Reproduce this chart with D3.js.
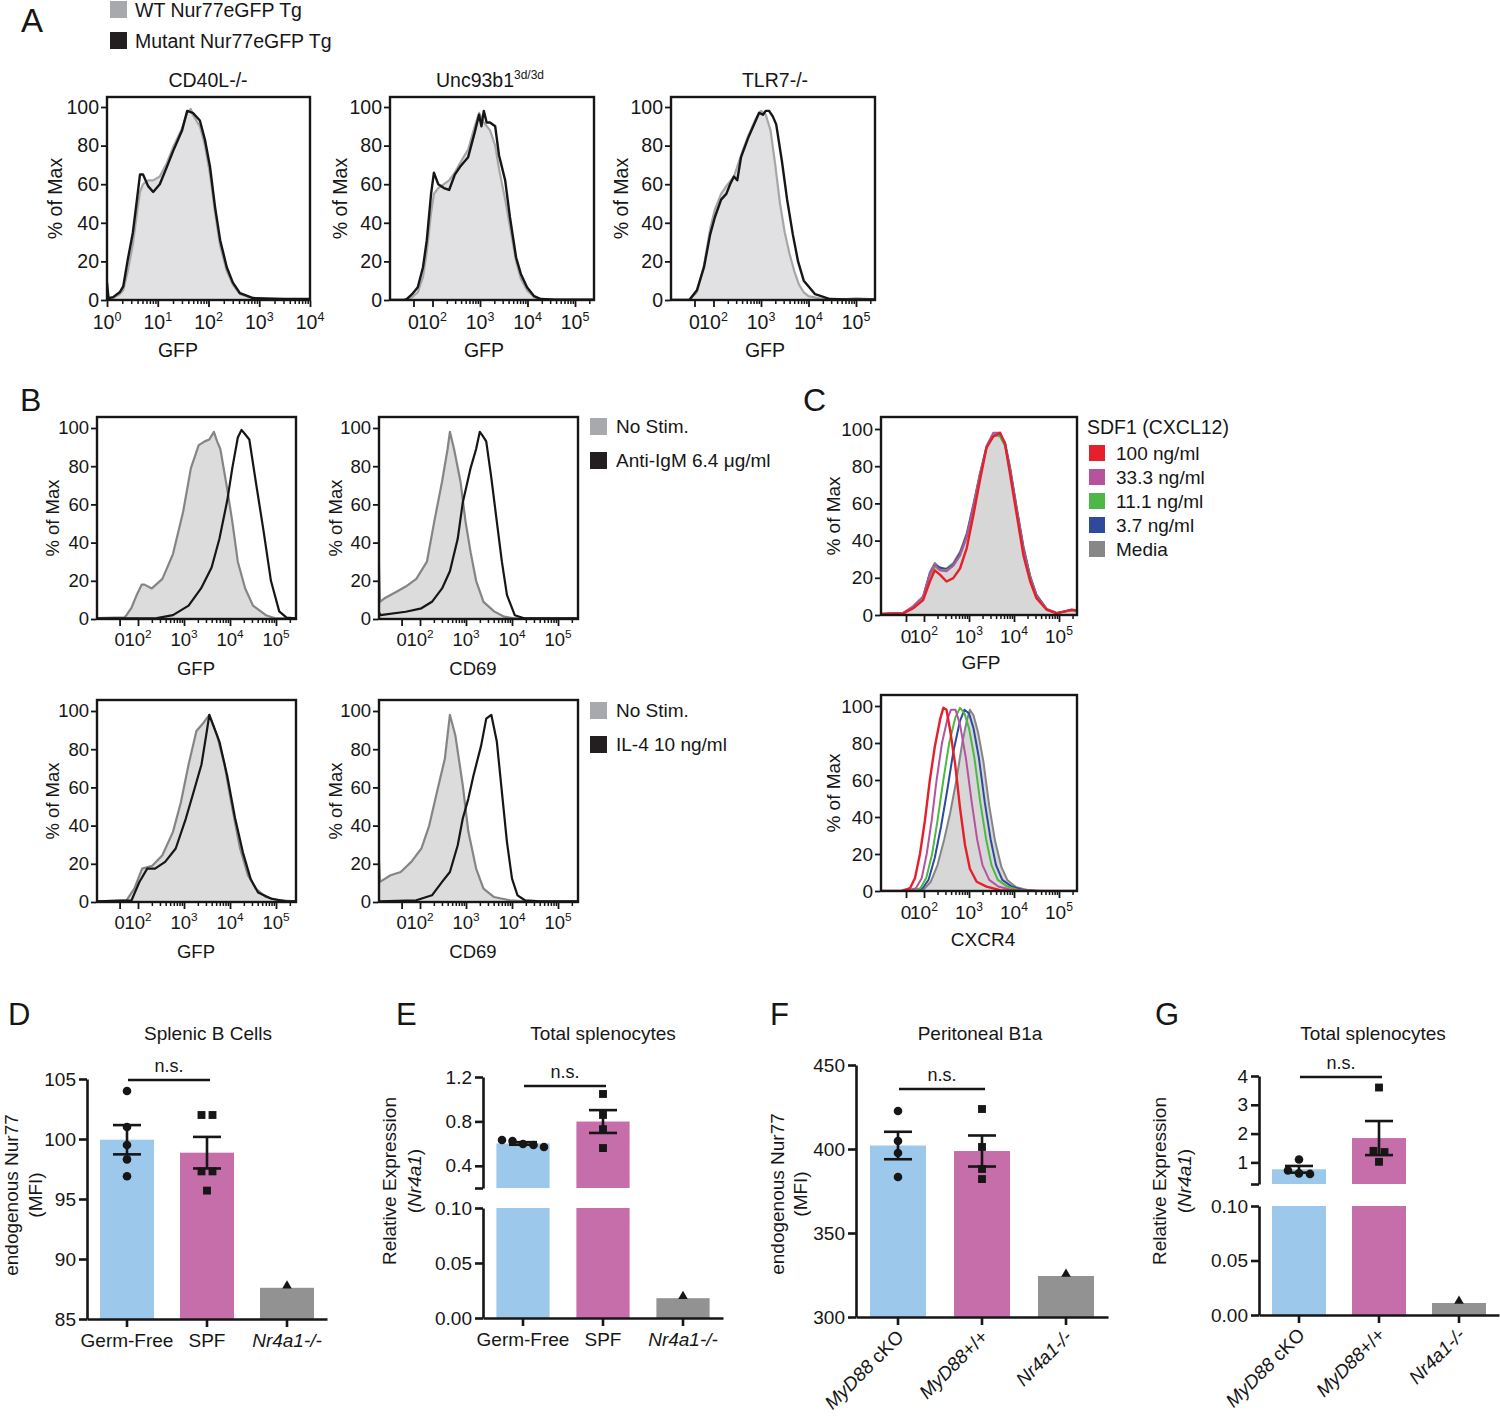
<!DOCTYPE html>
<html><head><meta charset="utf-8">
<script src="https://cdn.jsdelivr.net/npm/d3@7/dist/d3.min.js"></script>
<style>html,body{margin:0;padding:0;background:#fff;}svg{display:block;}</style>
</head><body>
<svg id="fig" width="1500" height="1416" xmlns="http://www.w3.org/2000/svg"></svg>
<script>
// ================= DATA =================
// Histograms: [axis position in decades (log10 display units; 1.6 = 0 on biexponential axes), % of Max]
const a1Wt  = [[0,0],[0.12,1],[0.25,3],[0.32,5],[0.41,15],[0.51,29],[0.59,45],[0.65,56],[0.71,60],[0.81,62],[0.91,62],[1.04,64],[1.18,71],[1.30,79],[1.48,89],[1.58,97],[1.65,99],[1.69,96],[1.83,90],[1.93,80],[2.03,65],[2.13,45],[2.23,28],[2.36,15],[2.48,8],[2.62,3],[2.88,0.8],[3.5,0.3],[4,0.3]];
const a1Mut = [[0,9],[0.03,1],[0.12,1.5],[0.25,4],[0.32,7],[0.41,21],[0.51,35],[0.59,52],[0.65,65],[0.71,65],[0.81,59],[0.91,56],[1.04,60],[1.18,69],[1.30,77],[1.48,88],[1.58,98],[1.69,97],[1.83,93],[1.93,83],[2.03,69],[2.13,48],[2.23,31],[2.36,17],[2.48,9],[2.62,3.5],[2.88,1],[3.5,0.5],[4,0.5]];
const a2Wt  = [[1.1,0],[1.45,0],[1.57,1.5],[1.69,4],[1.80,12],[1.88,25],[1.97,45],[2.03,55],[2.12,58],[2.24,60],[2.35,62],[2.47,66],[2.58,71],[2.75,78],[2.89,90],[2.98,97],[3.08,92],[3.21,88],[3.32,80],[3.40,68],[3.53,52],[3.63,38],[3.76,20],[3.86,11],[3.99,5],[4.14,1.5],[4.28,0.4],[4.6,0.2],[5.4,0.2]];
const a2Mut = [[1.1,0],[1.40,0],[1.455,0.5],[1.57,3],[1.69,6.6],[1.80,17],[1.88,31],[1.97,55],[2.03,66],[2.12,60],[2.24,58],[2.35,57],[2.47,65],[2.58,69],[2.75,74],[2.89,87],[2.98,96],[3.03,90],[3.08,98],[3.14,92],[3.21,92],[3.32,90],[3.40,75],[3.53,62],[3.63,43],[3.76,22],[3.86,13.5],[3.99,6.6],[4.14,2],[4.28,0.5],[4.6,0.2],[5.4,0.2]];
const a3Wt  = [[1.1,0],[1.49,0],[1.65,4],[1.80,18],[1.93,37],[2.03,47],[2.16,55],[2.27,59],[2.43,64],[2.58,75],[2.73,85],[2.89,94],[3.0,98],[3.1,96],[3.2,88],[3.3,70],[3.4,50],[3.5,35],[3.6,24],[3.7,15],[3.8,8],[3.9,4],[4.0,2],[4.3,0.5],[4.8,0.5],[5.0,0.9],[5.4,0.3]];
const a3Mut = [[1.1,0],[1.49,0],[1.65,5],[1.80,17],[1.93,34],[2.03,43],[2.16,52],[2.27,55],[2.35,60],[2.43,64],[2.5,62],[2.58,74],[2.73,84],[2.89,93],[2.96,97],[3.04,96],[3.10,98],[3.17,98],[3.25,95],[3.32,91],[3.44,72],[3.55,52],[3.67,34],[3.78,20],[3.90,10],[4.14,3],[4.45,0.5],[4.8,0.3],[5.4,0.3]];

const bIgmGfpNoStim  = [[1.1,0.5],[1.7,0.8],[1.75,2],[1.86,6],[1.98,13],[2.08,18],[2.14,18],[2.3,16],[2.53,21],[2.76,34],[2.98,56],[3.15,79],[3.32,91],[3.45,93],[3.55,94],[3.65,98],[3.72,93],[3.79,89],[3.94,68],[4.05,51],[4.17,30],[4.33,16],[4.5,7],[4.78,2],[5.0,0.3],[5.45,0.3]];
const bIgmGfpStim    = [[1.1,0.3],[2.41,0.5],[2.76,2],[3.10,7],[3.37,16],[3.60,27],[3.77,42],[3.94,62],[4.05,79],[4.17,95],[4.25,99],[4.32,97],[4.42,94],[4.56,72],[4.73,46],[4.89,20],[5.07,4],[5.23,0.7],[5.45,0.3]];
const bIgmCd69NoStim = [[1.1,35],[1.13,9],[1.24,11],[1.47,14],[1.69,17],[1.92,21],[2.15,30],[2.31,51],[2.48,72],[2.60,89],[2.65,98],[2.74,89],[2.88,72],[2.99,51],[3.10,35],[3.22,20],[3.38,9],[3.61,4],[3.83,1.2],[4.06,0.3],[5.45,0.3]];
const bIgmCd69Stim   = [[1.1,4],[1.14,2],[1.69,3.8],[2.03,5.6],[2.26,9],[2.48,16],[2.65,25],[2.82,42],[2.93,61],[3.10,79],[3.22,89],[3.30,98],[3.36,96],[3.44,93],[3.55,74],[3.67,51],[3.78,30],[3.89,12.6],[4.06,2],[4.28,0.3],[5.45,0.3]];
const bIl4GfpNoStim  = [[1.1,0.3],[1.75,0.9],[1.92,7],[2.09,17.5],[2.31,19],[2.53,24.5],[2.76,36.7],[2.93,52],[3.10,72],[3.27,89.5],[3.43,94],[3.55,98],[3.72,87],[3.88,72],[4.05,49],[4.22,28],[4.39,14],[4.56,7],[4.78,2.6],[5.06,0.9],[5.45,0.3]];
const bIl4GfpStim    = [[1.1,0.3],[1.86,0.9],[2.03,10.5],[2.20,17.5],[2.37,17.5],[2.59,21],[2.82,28],[3.04,43.7],[3.21,57.7],[3.38,72],[3.50,90],[3.55,98],[3.66,91],[3.77,84],[3.94,66],[4.11,44],[4.28,26],[4.45,12],[4.61,5],[4.90,1.7],[5.23,0.3],[5.45,0.3]];
const bIl4Cd69NoStim = [[1.1,26],[1.13,10.5],[1.36,14],[1.58,15.7],[1.81,21],[2.03,28],[2.20,40],[2.37,57.7],[2.54,75],[2.65,98],[2.77,87],[2.93,61],[3.05,37],[3.22,17.5],[3.38,7],[3.61,2.6],[3.95,0.9],[4.28,0.3],[5.45,0.3]];
const bIl4Cd69Stim   = [[1.1,0.3],[1.92,0.9],[2.26,3.5],[2.48,10.5],[2.65,15.7],[2.82,29.7],[2.93,43.7],[3.05,54],[3.16,66],[3.33,82],[3.44,96],[3.55,98],[3.67,84],[3.78,57.7],[3.89,31.5],[4.0,12.2],[4.12,3.5],[4.28,0.9],[4.62,0.3],[5.45,0.3]];

const cGfpMedia = [[1.0,0.5],[1.54,1],[1.76,4],[1.98,10],[2.13,23],[2.24,28],[2.36,25],[2.50,25],[2.65,28],[2.80,34],[2.95,44],[3.10,60],[3.24,76],[3.39,90],[3.54,96],[3.69,97],[3.80,93],[3.91,80],[4.06,58],[4.21,37],[4.36,21],[4.50,11],[4.73,3.2],[4.95,1.2],[5.17,2],[5.28,2.6],[5.45,2]];
const cGfp37    = [[1.0,0.5],[1.54,1],[1.76,4.2],[1.98,9.5],[2.13,22],[2.24,27],[2.36,25.5],[2.50,24.5],[2.65,27],[2.80,33],[2.95,43],[3.10,59],[3.24,75],[3.39,90],[3.54,97],[3.69,97],[3.80,92],[3.91,79],[4.06,57],[4.21,36],[4.36,20.5],[4.50,10.5],[4.73,3],[4.95,1],[5.17,2.1],[5.28,2.7],[5.45,2.1]];
const cGfp111   = [[1.0,0.5],[1.54,1],[1.76,4],[1.98,9],[2.13,21],[2.24,26],[2.36,24],[2.50,24],[2.65,26.5],[2.80,32],[2.95,42],[3.10,58],[3.24,75],[3.39,90],[3.54,97],[3.69,96],[3.80,91],[3.91,78],[4.06,56],[4.21,35],[4.36,20],[4.50,10],[4.73,3],[4.95,1],[5.17,2],[5.28,2.7],[5.45,2]];
const cGfp333   = [[1.0,0.5],[1.54,1.2],[1.76,4.8],[1.98,10],[2.13,22],[2.24,27],[2.36,24],[2.50,23.5],[2.65,26.5],[2.80,32],[2.95,42],[3.10,58],[3.24,75],[3.39,91],[3.54,98],[3.69,98],[3.80,92],[3.91,78],[4.06,56],[4.21,35],[4.36,19.5],[4.50,10],[4.73,3],[4.95,1],[5.17,2.2],[5.28,2.8],[5.45,2.2]];
const cGfp100   = [[1.0,0.5],[1.54,0.9],[1.76,3.6],[1.98,8],[2.13,18],[2.24,24],[2.36,21.6],[2.50,18],[2.65,19.8],[2.80,25],[2.95,36],[3.10,54],[3.24,72],[3.39,90],[3.54,96],[3.69,98],[3.80,92],[3.91,76],[4.06,54],[4.21,32],[4.36,18],[4.50,9],[4.73,2.7],[4.95,0.9],[5.17,2.2],[5.28,2.9],[5.45,2.2]];

const cCxcr4Media = [[1.0,0],[1.8,0],[2.0,1],[2.15,5],[2.30,14],[2.45,28],[2.58,42],[2.72,60],[2.85,80],[2.95,92],[3.02,98],[3.10,95],[3.2,86],[3.32,70],[3.45,46],[3.58,27],[3.72,13],[3.85,6],[4.05,2],[4.3,0.5],[4.6,0],[5.45,0]];
const cCxcr437    = [[1.0,0],[1.75,0],[1.97,1.5],[2.10,6],[2.24,18],[2.38,35],[2.52,55],[2.65,75],[2.80,92],[2.90,98],[3.0,96],[3.1,88],[3.22,72],[3.35,48],[3.48,28],[3.60,14],[3.74,6],[3.95,2.4],[4.2,0.5],[4.5,0],[5.45,0]];
const cCxcr4111   = [[1.0,0],[1.7,0],[1.92,1.5],[2.05,7],[2.18,20],[2.30,38],[2.43,60],[2.56,80],[2.70,94],[2.80,99],[2.90,96],[3.0,88],[3.12,72],[3.25,48],[3.38,28],[3.50,14],[3.64,6],[3.85,2.4],[4.1,0.5],[4.4,0],[5.45,0]];
const cCxcr4333   = [[1.0,0],[1.6,0],[1.82,1.5],[1.95,7],[2.06,20],[2.17,38],[2.28,60],[2.40,80],[2.52,93],[2.60,98],[2.70,98],[2.80,90],[2.93,72],[3.06,48],[3.18,28],[3.30,14],[3.45,6],[3.65,2.4],[3.95,0.5],[4.3,0],[5.45,0]];
const cCxcr4100   = [[1.0,0],[1.5,0],[1.69,1.5],[1.80,7],[1.91,20],[2.02,38],[2.13,60],[2.24,78],[2.36,93],[2.43,99],[2.50,98],[2.58,87],[2.69,69],[2.80,45],[2.91,25],[3.02,12],[3.17,5],[3.39,2.4],[3.69,0.5],[4.06,0],[5.45,0]];

// Histogram axis ticks
const pctTicks     = [0,20,40,60,80,100];
const logTickPos   = [0,1,2,3,4];
const logTickBase  = ["10","10","10","10","10"];
const logTickSup   = ["0","1","2","3","4"];
const biexTickPos  = [1.6,2,3,4,5];
const biexTickBase = ["0","10","10","10","10"];
const biexTickSup  = ["","2","3","4","5"];

// Bar charts
const catsNur = ["Germ-Free","SPF","Nr4a1-/-"];
const catsMyd = ["MyD88 cKO","MyD88+/+","Nr4a1-/-"];
const dGermFree = [104,101,99.5,98.3,96.9];
const dSPF      = [102,102,97.3,97.3,95.7];
const dKO       = [87.6];
const dTicks    = [85,90,95,100,105];
const eGermFree = [0.632,0.596,0.569,0.587,0.623];
const eSPF      = [1.047,0.858,0.73,0.56];
const eKO       = [0.018];
const eTicksLower = [0,0.05,0.10];  const eLabelsLower = ["0.00","0.05","0.10"];
const eTicksUpper = [0.2,0.4,0.8,1.2]; const eLabelsUpper = ["","0.4","0.8","1.2"];
const fCKO = [422.6,404.8,397.6,383.3];
const fWT  = [423.8,401.2,388.1,382.1];
const fKO  = [324.4];
const fTicks = [300,350,400,450];
const gCKO = [1.1,0.72,0.62,0.6];
const gWT  = [3.6,1.4,1.36,1.02];
const gKO  = [0.011];
const gTicksLower = [0,0.05,0.10];   const gLabelsLower = ["0.00","0.05","0.10"];
const gTicksUpper = [0.25,1,2,3,4];  const gLabelsUpper = ["","1","2","3","4"];

// ================= DRAWING =================
const FONT = '"Liberation Sans", Arial, Helvetica, sans-serif';
const INK = '#161616';
const svg = d3.select('#fig').attr('font-family', FONT);
svg.append('rect').attr('width',1500).attr('height',1416).attr('fill','#fff');
let clipN = 0;

function rich(sel, s){
  s.split(/(Nr4a1-\/-|Nr4a1|MyD88)/).filter(p=>p.length).forEach(p=>{
    const t = sel.append('tspan').text(p);
    if (/^(Nr4a1|MyD88)/.test(p)) t.attr('font-style','italic');
  });
  return sel;
}
function text(x,y,s,o={}){
  const t = svg.append('text').attr('x',x).attr('y',y).attr('fill',INK)
    .attr('font-size',o.fs||19).attr('text-anchor',o.anchor||'start');
  if(o.db) t.attr('dominant-baseline',o.db);
  if(o.weight) t.attr('font-weight',o.weight);
  rich(t,s);
  return t;
}
function biexDom(left,right,p3,dec){ return [3-(p3-left)/dec, 3+(right-p3)/dec]; }
function minorTicks(d0,d1){ const r=[]; for(let d=d0; d<d1; d++) for(let k=2;k<10;k++) r.push(d+Math.log10(k)); return r; }

function drawHist(o){
  const g = svg.append('g');
  const x = d3.scaleLinear().domain(o.tDom).range([o.left,o.right]);
  const y = d3.scaleLinear().domain([0,100]).range([o.zero,o.hundred]);
  const cid = 'hc'+(clipN++);
  g.append('clipPath').attr('id',cid).append('rect')
    .attr('x',o.left).attr('y',o.top).attr('width',o.right-o.left).attr('height',o.zero-o.top);
  const cg = g.append('g').attr('clip-path',`url(#${cid})`);
  const line = d3.line().x(d=>x(d[0])).y(d=>y(d[1]));
  const area = d3.area().x(d=>x(d[0])).y0(y(0)).y1(d=>y(d[1]));
  o.curves.forEach(c=>{
    if(c.fill) cg.append('path').attr('d',area(c.data)).attr('fill',c.fill);
    cg.append('path').attr('d',line(c.data)).attr('fill','none').attr('stroke',c.stroke)
      .attr('stroke-width',c.w).attr('stroke-linejoin','round');
  });
  g.append('rect').attr('x',o.left).attr('y',o.top).attr('width',o.right-o.left).attr('height',o.zero-o.top)
    .attr('fill','none').attr('stroke',INK).attr('stroke-width',2.4);
  const ya = g.append('g').attr('transform',`translate(${o.left-1},0)`)
    .call(d3.axisLeft(y).tickValues(pctTicks).tickSize(5).tickSizeOuter(0).tickPadding(2));
  ya.attr('font-family',FONT).attr('font-size',o.fs);
  ya.select('.domain').remove();
  ya.selectAll('.tick line').attr('stroke',INK).attr('stroke-width',1.8);
  ya.selectAll('.tick text').attr('fill',INK);
  const mt = o.minor.filter(t=>t>o.tDom[0] && t<o.tDom[1]);
  const xm = g.append('g').attr('transform',`translate(0,${o.zero+1})`)
    .call(d3.axisBottom(x).tickValues(mt).tickSize(3).tickSizeOuter(0).tickFormat(''));
  xm.select('.domain').remove(); xm.selectAll('line').attr('stroke',INK).attr('stroke-width',1.5);
  const xa = g.append('g').attr('transform',`translate(0,${o.zero+1})`)
    .call(d3.axisBottom(x).tickValues(o.ticks).tickSize(6).tickSizeOuter(0).tickFormat(''));
  xa.select('.domain').remove(); xa.selectAll('line').attr('stroke',INK).attr('stroke-width',1.8);
  o.ticks.forEach((t,i)=>{
    const tx = g.append('text').attr('x',x(t)).attr('y',o.labY).attr('text-anchor','middle')
      .attr('font-size',o.fs).attr('fill',INK);
    tx.append('tspan').text(o.base[i]);
    if(o.sup[i]) tx.append('tspan').attr('dy',-8).attr('font-size',o.fs*0.64).text(o.sup[i]);
  });
  g.append('text').attr('x',o.xTitleX).attr('y',o.xTitleY).attr('text-anchor','middle')
    .attr('font-size',o.fs).attr('fill',INK).text(o.xTitle);
  g.append('text').attr('transform',`translate(${o.yTitleX},${(o.zero+o.top)/2}) rotate(-90)`)
    .attr('text-anchor','middle').attr('dominant-baseline','central').attr('font-size',o.fs)
    .attr('fill',INK).text('% of Max');
}

function drawBars(o){
  const g = svg.append('g');
  const x = d3.scaleBand().domain(o.cats).range(o.xRange).paddingInner(o.pad).paddingOuter(o.pad/2);
  const segs = o.segs.map(s=>Object.assign({},s,{sc:d3.scaleLinear().domain(s.dom).range(s.rng)}));
  const segOf = v => segs.find(s=>v>=s.dom[0]-1e-9 && v<=s.dom[1]+1e-9) || segs[segs.length-1];
  const yv = v => segOf(v).sc(v);
  const shapes = [d3.symbolCircle, d3.symbolSquare, d3.symbolTriangle];
  const sizes = [58, 62, 40];
  o.groups.forEach((vals,i)=>{
    const m = d3.mean(vals);
    segs.forEach(s=>{
      const hi = Math.min(m, s.dom[1]); if(hi <= s.dom[0]) return;
      g.append('rect').attr('x',x(o.cats[i])).attr('width',x.bandwidth())
        .attr('y',s.sc(hi)).attr('height',s.sc(s.dom[0])-s.sc(hi)).attr('fill',o.colors[i]);
    });
  });
  o.groups.forEach((vals,i)=>{
    const cx = x(o.cats[i]) + x.bandwidth()/2;
    const m = d3.mean(vals);
    if(vals.length>1){
      const sem = d3.deviation(vals)/Math.sqrt(vals.length);
      const yt = yv(m+sem), yb = yv(m-sem);
      g.append('line').attr('x1',cx).attr('x2',cx).attr('y1',yt).attr('y2',yb).attr('stroke',INK).attr('stroke-width',2.6);
      [yt,yb].forEach(yy=>g.append('line').attr('x1',cx-14).attr('x2',cx+14).attr('y1',yy).attr('y2',yy)
        .attr('stroke',INK).attr('stroke-width',2.6));
    }
    const pts = vals.map(v=>({v,py:yv(v)})).sort((a,b)=>a.py-b.py);
    const clusters = [];
    pts.forEach(p=>{ const c = clusters[clusters.length-1];
      if(c && p.py - c[c.length-1].py < 6) c.push(p); else clusters.push([p]); });
    clusters.forEach(c=>c.forEach((p,k)=>{ p.px = cx + (k-(c.length-1)/2)*o.jit; }));
    const sym = d3.symbol().type(shapes[i]).size(sizes[i]);
    pts.forEach(p=>g.append('path').attr('d',sym()).attr('transform',`translate(${p.px},${p.py - (i===2?2:0)})`).attr('fill',INK));
  });
  segs.forEach(s=>{
    const ax = g.append('g').attr('transform',`translate(${o.yAxisX},0)`)
      .call(d3.axisLeft(s.sc).tickValues(s.ticks).tickFormat((d,i)=>s.labels[i]).tickSize(8).tickSizeOuter(0).tickPadding(3));
    ax.attr('font-family',FONT).attr('font-size',o.fs);
    ax.selectAll('path,line').attr('stroke',INK).attr('stroke-width',2.6);
    ax.selectAll('text').attr('fill',INK);
  });
  const xa = g.append('g').attr('transform',`translate(0,${o.xAxisY})`)
    .call(d3.axisBottom(x).tickSize(8).tickSizeOuter(0).tickFormat(''));
  xa.selectAll('path,line').attr('stroke',INK).attr('stroke-width',2.6);
  o.cats.forEach(c=>{
    const cx = x(c) + x.bandwidth()/2;
    const t = g.append('text').attr('font-size',o.fs).attr('fill',INK);
    if(o.rotate) t.attr('text-anchor','end').attr('transform',`translate(${cx+7},${o.xAxisY+21}) rotate(-45)`);
    else t.attr('x',cx).attr('y',o.xAxisY+28).attr('text-anchor','middle');
    rich(t,c);
  });
  const c0 = x(o.cats[0])+x.bandwidth()/2, c1 = x(o.cats[1])+x.bandwidth()/2;
  g.append('line').attr('x1',c0+1).attr('x2',c1+3).attr('y1',o.sigY).attr('y2',o.sigY).attr('stroke',INK).attr('stroke-width',2.4);
  g.append('text').attr('x',(c0+c1)/2+2).attr('y',o.sigY-8).attr('text-anchor','middle').attr('font-size',o.fs-1).attr('fill',INK).text('n.s.');
  g.append('text').attr('x',o.titleX).attr('y',o.titleY).attr('text-anchor','middle').attr('font-size',o.fs).attr('fill',INK).text(o.title);
  const yt = g.append('text').attr('transform',`translate(${o.yLabX[0]},${o.yLabY}) rotate(-90)`)
    .attr('text-anchor','middle').attr('dominant-baseline','central').attr('font-size',o.fs).attr('fill',INK);
  rich(yt, o.yLab[0]);
  const yt2 = g.append('text').attr('transform',`translate(${o.yLabX[1]},${o.yLabY}) rotate(-90)`)
    .attr('text-anchor','middle').attr('dominant-baseline','central').attr('font-size',o.fs).attr('fill',INK);
  rich(yt2, o.yLab[1]);
}

// ---------- Panel letters ----------
[["A",21,32,33],["B",20,411,32],["C",803,411,32],["D",8,1025,31],["E",396,1025,31],["F",770,1025,31],["G",1155,1025,31]]
  .forEach(([s,x,y,fs])=>text(x,y,s,{fs}));

// ---------- Panel A ----------
const FILL_A = '#e1e1e3', GRAY_A = '#a6a6a6';
svg.append('rect').attr('x',110).attr('y',1).attr('width',17).attr('height',17).attr('fill','#a7a9ac');
text(135,17,'WT Nur77eGFP Tg',{fs:19.5});
svg.append('rect').attr('x',110).attr('y',32).attr('width',17).attr('height',17).attr('fill','#231f20');
text(135,48,'Mutant Nur77eGFP Tg',{fs:19.5});

drawHist({left:107,right:310,top:97,zero:300,hundred:107,tDom:[0,4],ticks:logTickPos,base:logTickBase,sup:logTickSup,
  minor:minorTicks(0,4),labY:329,fs:19.5,xTitle:'GFP',xTitleX:178,xTitleY:357,yTitleX:55,
  curves:[{data:a1Wt,fill:FILL_A,stroke:GRAY_A,w:2.2},{data:a1Mut,stroke:INK,w:2.4}]});
text(208,87,'CD40L-/-',{fs:19.5,anchor:'middle'});

drawHist({left:390,right:594,top:97,zero:300,hundred:107,tDom:biexDom(390,594,480,47.5),ticks:biexTickPos,base:biexTickBase,sup:biexTickSup,
  minor:minorTicks(2,6),labY:329,fs:19.5,xTitle:'GFP',xTitleX:484,xTitleY:357,yTitleX:340,
  curves:[{data:a2Wt,fill:FILL_A,stroke:GRAY_A,w:2.2},{data:a2Mut,stroke:INK,w:2.4}]});
{
  const t = text(490,87,'Unc93b1',{fs:19.5,anchor:'middle'});
  t.append('tspan').attr('dy',-8).attr('font-size',12).text('3d/3d');
}
drawHist({left:671,right:875,top:97,zero:300,hundred:107,tDom:biexDom(671,875,761,47.5),ticks:biexTickPos,base:biexTickBase,sup:biexTickSup,
  minor:minorTicks(2,6),labY:329,fs:19.5,xTitle:'GFP',xTitleX:765,xTitleY:357,yTitleX:621,
  curves:[{data:a3Wt,fill:FILL_A,stroke:GRAY_A,w:2.2},{data:a3Mut,stroke:INK,w:2.4}]});
text(775,87,'TLR7-/-',{fs:19.5,anchor:'middle'});

// ---------- Panel B ----------
const FILL_B = '#dcdcdc', GRAY_B = '#858585';
const bRows = [
  {top:417,zero:619,hundred:428,labY:646,xTitleY:675,gfp:[bIgmGfpNoStim,bIgmGfpStim],cd69:[bIgmCd69NoStim,bIgmCd69Stim]},
  {top:700,zero:902,hundred:711,labY:929,xTitleY:958,gfp:[bIl4GfpNoStim,bIl4GfpStim],cd69:[bIl4Cd69NoStim,bIl4Cd69Stim]}
];
bRows.forEach(r=>{
  drawHist({left:97,right:296,top:r.top,zero:r.zero,hundred:r.hundred,tDom:biexDom(97,296,184,46),ticks:biexTickPos,base:biexTickBase,sup:biexTickSup,
    minor:minorTicks(2,6),labY:r.labY,fs:18.5,xTitle:'GFP',xTitleX:196,xTitleY:r.xTitleY,yTitleX:52,
    curves:[{data:r.gfp[0],fill:FILL_B,stroke:GRAY_B,w:2.2},{data:r.gfp[1],stroke:INK,w:2.2}]});
  drawHist({left:379,right:578,top:r.top,zero:r.zero,hundred:r.hundred,tDom:biexDom(379,578,466,46),ticks:biexTickPos,base:biexTickBase,sup:biexTickSup,
    minor:minorTicks(2,6),labY:r.labY,fs:18.5,xTitle:'CD69',xTitleX:473,xTitleY:r.xTitleY,yTitleX:335,
    curves:[{data:r.cd69[0],fill:FILL_B,stroke:GRAY_B,w:2.2},{data:r.cd69[1],stroke:INK,w:2.2}]});
});
[[418,'No Stim.','#a7a9ac'],[452,'Anti-IgM 6.4 μg/ml','#231f20'],[702,'No Stim.','#a7a9ac'],[736,'IL-4 10 ng/ml','#231f20']]
  .forEach(([y,s,c])=>{ svg.append('rect').attr('x',590).attr('y',y).attr('width',17).attr('height',17).attr('fill',c);
    text(616,y+15,s,{fs:19}); });

// ---------- Panel C ----------
const C_RED='#e5202a', C_MAG='#b5539f', C_GRN='#4db848', C_BLU='#2f4a9c', C_GRY='#858585', FILL_C='#d7d7d7';
drawHist({left:881,right:1077,top:417,zero:615,hundred:429,tDom:biexDom(881,1077,969,45),ticks:biexTickPos,base:biexTickBase,sup:biexTickSup,
  minor:minorTicks(2,6),labY:643,fs:19,xTitle:'GFP',xTitleX:981,xTitleY:669,yTitleX:833,
  curves:[{data:cGfpMedia,fill:FILL_C,stroke:C_GRY,w:2},{data:cGfp37,stroke:C_BLU,w:2},{data:cGfp111,stroke:C_GRN,w:2},
          {data:cGfp333,stroke:C_MAG,w:2},{data:cGfp100,stroke:C_RED,w:2.4}]});
drawHist({left:881,right:1077,top:695,zero:891,hundred:706,tDom:biexDom(881,1077,969,45),ticks:biexTickPos,base:biexTickBase,sup:biexTickSup,
  minor:minorTicks(2,6),labY:919,fs:19,xTitle:'CXCR4',xTitleX:983,xTitleY:946,yTitleX:833,
  curves:[{data:cCxcr4Media,fill:FILL_C,stroke:C_GRY,w:2},{data:cCxcr437,stroke:C_BLU,w:2},{data:cCxcr4111,stroke:C_GRN,w:2},
          {data:cCxcr4333,stroke:C_MAG,w:2},{data:cCxcr4100,stroke:C_RED,w:2.4}]});
text(1087,434,'SDF1 (CXCL12)',{fs:19.5});
[['100 ng/ml',C_RED],['33.3 ng/ml',C_MAG],['11.1 ng/ml',C_GRN],['3.7 ng/ml',C_BLU],['Media','#878787']].forEach(([s,c],i)=>{
  const y0 = 445 + i*24;
  svg.append('rect').attr('x',1089).attr('y',y0).attr('width',16).attr('height',16).attr('fill',c);
  text(1116,y0+15,s,{fs:19});
});

// ---------- Panels D-G ----------
const BAR_COLORS = ['#9bc8eb','#c56eaa','#929292'];
drawBars({cats:catsNur,groups:[dGermFree,dSPF,dKO],colors:BAR_COLORS,xRange:[87,327],pad:0.325,jit:11,
  segs:[{dom:[85,105],rng:[1319,1079],ticks:dTicks,labels:dTicks.map(String)}],
  yAxisX:87,xAxisY:1319,fs:19,sigY:1080,title:'Splenic B Cells',titleX:208,titleY:1040,
  yLab:['endogenous Nur77','(MFI)'],yLabX:[11,35],yLabY:1195});
drawBars({cats:catsNur,groups:[eGermFree,eSPF,eKO],colors:BAR_COLORS,xRange:[483,723],pad:0.335,jit:10.5,
  segs:[{dom:[0,0.1],rng:[1318,1208],ticks:eTicksLower,labels:eLabelsLower},
        {dom:[0.2,1.2],rng:[1188,1077],ticks:eTicksUpper,labels:eLabelsUpper}],
  yAxisX:483,xAxisY:1318,fs:19,sigY:1086,title:'Total splenocytes',titleX:603,titleY:1040,
  yLab:['Relative Expression','(Nr4a1)'],yLabX:[389,414],yLabY:1181});
drawBars({cats:catsMyd,groups:[fCKO,fWT,fKO],colors:BAR_COLORS,xRange:[856,1108],pad:0.333,jit:10,
  segs:[{dom:[300,450],rng:[1317,1065],ticks:fTicks,labels:fTicks.map(String)}],
  yAxisX:856,xAxisY:1317,fs:19,sigY:1089,title:'Peritoneal B1a',titleX:980,titleY:1040,rotate:true,
  yLab:['endogenous Nur77','(MFI)'],yLabX:[777,800],yLabY:1194});
drawBars({cats:catsMyd,groups:[gCKO,gWT,gKO],colors:BAR_COLORS,xRange:[1259,1499],pad:0.325,jit:11,
  segs:[{dom:[0,0.1],rng:[1315,1206],ticks:gTicksLower,labels:gLabelsLower},
        {dom:[0.25,4],rng:[1184,1076],ticks:gTicksUpper,labels:gLabelsUpper}],
  yAxisX:1259,xAxisY:1315,fs:19,sigY:1077,title:'Total splenocytes',titleX:1373,titleY:1040,rotate:true,
  yLab:['Relative Expression','(Nr4a1)'],yLabX:[1159,1184],yLabY:1181});
</script>
</body></html>
